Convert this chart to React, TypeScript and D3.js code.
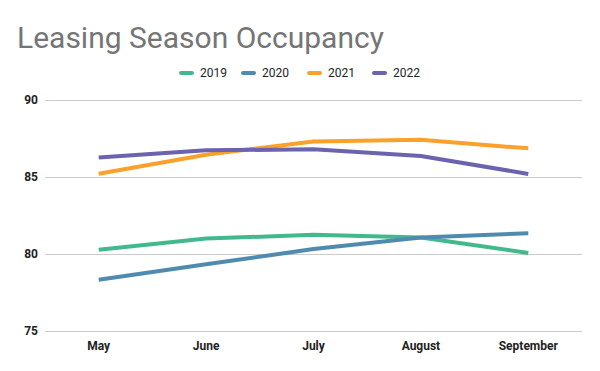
import React, { useEffect, useRef } from "react"
import * as d3 from "d3"

const months = ["May", "June", "July", "August", "September"]
const years = ["2019", "2020", "2021", "2022"]
const colors = ["#42b98d", "#4f8bae", "#f9a12a", "#6b63ad"]

const occ2019 = [80.28, 81.0, 81.25, 81.07, 80.07]
const occ2020 = [78.33, 79.33, 80.32, 81.07, 81.35]
const occ2021 = [85.21, 86.45, 87.3, 87.42, 86.86]
const occ2022 = [86.27, 86.73, 86.8, 86.36, 85.2]

const yTicks = [75, 80, 85, 90]

const series = [occ2019, occ2020, occ2021, occ2022]

const W = 600
const H = 371
const FONT = "Roboto, 'Noto Sans', sans-serif"

const App = () => {
  const ref = useRef<SVGSVGElement | null>(null)

  useEffect(() => {
    const svg = d3.select(ref.current)
    svg.selectAll("*").remove()

    const x = d3.scaleBand().domain(months).range([45, 582]).padding(0)
    const y = d3.scaleLinear().domain([75, 90]).range([331, 100])
    const cx = (m: string) => x(m)! + x.bandwidth() / 2

    // title
    svg
      .append("text")
      .attr("x", 17)
      .attr("y", 48)
      .attr("font-family", FONT)
      .attr("font-size", 30)
      .attr("fill", "#757575")
      .text("Leasing Season Occupancy")

    // legend
    const legendX = [180, 242, 308, 373]
    const lg = svg
      .append("g")
      .selectAll("g")
      .data(years)
      .join("g")
      .attr("transform", (d, i) => `translate(${legendX[i]},73)`)
    lg.append("line")
      .attr("x1", 1)
      .attr("x2", 12)
      .attr("stroke", (d, i) => colors[i])
      .attr("stroke-width", 4)
      .attr("stroke-linecap", "round")
    lg.append("text")
      .attr("x", 20)
      .attr("dy", "0.35em")
      .attr("font-family", FONT)
      .attr("font-size", 12)
      .attr("fill", "#222")
      .text((d) => d)

    // y grid + labels
    const yAxis = svg
      .append("g")
      .attr("transform", "translate(45,0)")
      .call(
        d3
          .axisLeft(y)
          .tickValues(yTicks)
          .tickSize(-537)
          .tickPadding(7)
          .tickFormat((d) => `${d}`)
      )
    yAxis.select(".domain").remove()
    yAxis.selectAll(".tick line").attr("stroke", "#cccccc")
    yAxis
      .selectAll(".tick text")
      .attr("font-family", FONT)
      .attr("font-size", 12)
      .attr("font-weight", "bold")
      .attr("fill", "#222")

    // x labels
    const xAxis = svg
      .append("g")
      .attr("transform", "translate(0,331)")
      .call(d3.axisBottom(x).tickSize(0).tickPadding(10))
    xAxis.select(".domain").remove()
    xAxis
      .selectAll(".tick text")
      .attr("font-family", FONT)
      .attr("font-size", 12)
      .attr("font-weight", "bold")
      .attr("fill", "#222")

    // lines
    const line = d3
      .line<number>()
      .x((d, i) => cx(months[i]))
      .y((d) => y(d))

    svg
      .append("g")
      .selectAll("path")
      .data(series)
      .join("path")
      .attr("d", (d) => line(d))
      .attr("fill", "none")
      .attr("stroke", (d, i) => colors[i])
      .attr("stroke-width", 4)
      .attr("stroke-linejoin", "round")
  }, [])

  return (
    <div style={{ position: "absolute", left: 0, top: 0, width: W, height: H, background: "#fff" }}>
      <svg ref={ref} width={W} height={H}></svg>
    </div>
  )
}

export default App
